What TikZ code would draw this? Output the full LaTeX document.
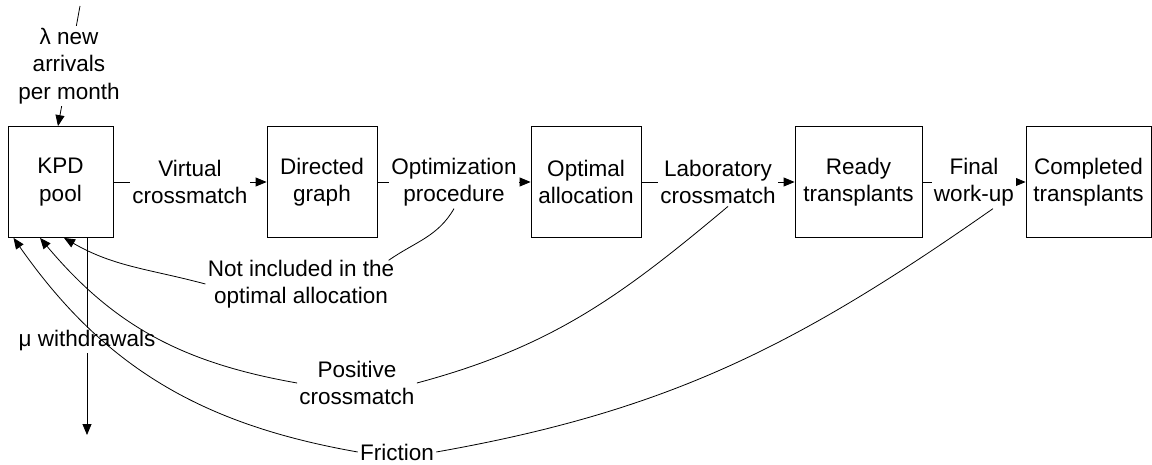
\documentclass[tikz,border=0pt]{standalone}
\usepackage{fontspec}
\setmainfont{Liberation Sans}
\usetikzlibrary{arrows.meta,positioning}

\begin{document}
\begin{tikzpicture}[x=1pt,y=1pt,line width=0.8pt,
  font=\fontsize{22.5}{27.5}\selectfont,
  box/.style={draw,align=center,minimum height=111pt,inner sep=2pt},
  lbl/.style={fill=white,align=center,inner sep=2pt},
  >={Triangle[length=11pt,width=9pt]}]
\useasboundingbox (0,0) rectangle (1152,464);
\node[box,minimum width=105pt] (pool) at (60.5,282) {KPD\\pool};
\node[box,minimum width=110pt] (graph) at (322,282) {Directed\\graph};
\node[box,minimum width=110pt] (alloc) at (586,282) {Optimal\\allocation};
\node[box,minimum width=127pt] (ready) at (858.5,282) {Ready\\transplants};
\node[box,minimum width=125pt] (done) at (1088.5,282) {Completed\\transplants};
\coordinate (src) at (80,458);
\coordinate (sink) at (87,29);
% flow through the pool
\draw[->] (src) -- node[lbl] (arr) {λ new\\arrivals\\per month} ([xshift=-2.5pt]pool.north);
\draw[->] ([xshift=26.5pt]pool.south) -- node[lbl,pos=0.52] (wd) {μ withdrawals} (sink);
\draw[->] (pool) -- node[lbl] (vc) {Virtual\\crossmatch} (graph);
\draw[->] (graph) -- node[lbl] (op) {Optimization\\procedure} (alloc);
\draw[->] (alloc) -- node[lbl] (lab) {Laboratory\\crossmatch} (ready);
\draw[->] (ready) -- node[lbl] (fw) {Final\\work-up} (done);
% returns to the pool
\node[lbl] (ni) at (301,180) {Not included in the\\optimal allocation};
\node[lbl] (pc) at (357,81) {Positive\\crossmatch};
\node[lbl] (fr) at (397,12) {Friction};
\draw (op.south) to[out=-120,in=35] ([xshift=-8pt,yshift=-3pt]ni.north east);
\draw[->] (ni.west) to[out=165,in=-30] ([xshift=3.5pt]pool.south);
\draw ([xshift=10pt]lab.south) to[out=-140,in=15] (pc.east);
\draw[->] (pc.west) to[out=170,in=-50] ([xshift=-20.5pt]pool.south);
\draw ([xshift=19pt]fw.south) to[out=-145,in=10] (fr.east);
\draw[->] (fr.west) to[out=170,in=-55] ([xshift=-47pt]pool.south);
\end{tikzpicture}
\end{document}
